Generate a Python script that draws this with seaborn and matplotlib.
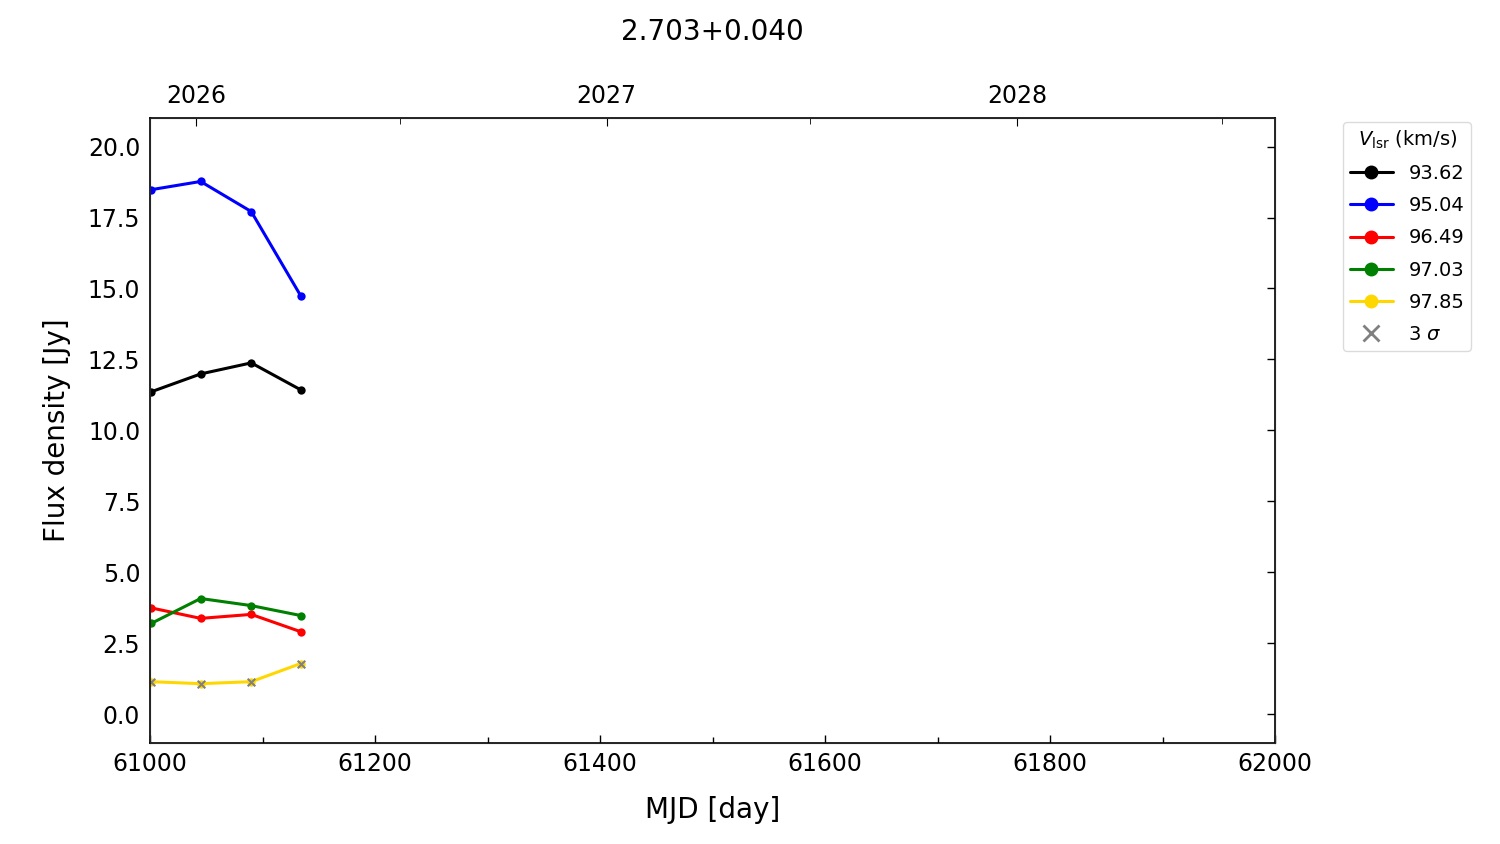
import pandas as pd
import numpy as np
import seaborn as sns
import matplotlib.pyplot as plt
from matplotlib.ticker import MultipleLocator, FixedLocator
from matplotlib.lines import Line2D

mjd = [61001, 61045, 61090, 61134]
vlsr = ["93.62", "95.04", "96.49", "97.03", "97.85"]
flux_9362 = [11.36, 11.99, 12.38, 11.43]
flux_9504 = [18.48, 18.77, 17.71, 14.74]
flux_9649 = [3.75, 3.38, 3.52, 2.91]
flux_9703 = [3.20, 4.08, 3.83, 3.48]
flux_9785 = [1.15, 1.08, 1.15, 1.79]
sigma3 = [1.15, 1.08, 1.15, 1.79]
colors = ["black", "blue", "red", "green", "gold"]

rows = []
for v, f in zip(vlsr, [flux_9362, flux_9504, flux_9649, flux_9703, flux_9785]):
    for m, y in zip(mjd, f):
        rows.append({"MJD": m, "flux": y, "vlsr": v})
df = pd.DataFrame(rows)

sns.set_style("white")
plt.rcParams['font.family'] = ['DejaVu Sans']
plt.rcParams['text.color'] = 'black'
plt.rcParams['axes.labelcolor'] = 'black'
plt.rcParams['xtick.color'] = 'black'
plt.rcParams['ytick.color'] = 'black'
fig, ax = plt.subplots(figsize=(15, 8.44), dpi=100)
fig.subplots_adjust(left=0.1, right=0.85, top=0.86, bottom=0.12)

sns.lineplot(data=df, x="MJD", y="flux", hue="vlsr", palette=colors, marker="o",
             markersize=6, markeredgewidth=0, linewidth=2.2, ax=ax, legend=False)
sns.scatterplot(x=mjd, y=sigma3, marker="x", color="gray", s=30, linewidth=1.5, ax=ax, zorder=5)

ax.set_xlim(61000, 62000)
ax.set_ylim(-1, 21)
ax.xaxis.set_major_locator(MultipleLocator(200))
ax.xaxis.set_minor_locator(MultipleLocator(100))
ax.yaxis.set_major_locator(MultipleLocator(2.5))
ax.tick_params(which="both", direction="in", top=False, right=True, labelsize=17, pad=7)
ax.tick_params(which="major", length=6, width=1)
ax.tick_params(which="minor", length=4, width=1)
for s in ax.spines.values():
    s.set_color("black")
    s.set_linewidth(1.2)
ax.set_xlabel("MJD [day]", fontsize=20, labelpad=14)
ax.set_ylabel("Flux density [Jy]", fontsize=20, labelpad=12)

# top axis with years
yr_mjd = [61041, 61406, 61771]
half_mjd = [61222, 61587, 61953]
ax2 = ax.twiny()
ax2.set_xlim(ax.get_xlim())
ax2.xaxis.set_major_locator(FixedLocator(yr_mjd))
ax2.xaxis.set_minor_locator(FixedLocator(half_mjd))
ax2.set_xticklabels(["2026", "2027", "2028"])
ax2.tick_params(which="both", direction="in", labelsize=17, pad=7)
ax2.tick_params(which="major", length=6)
ax2.tick_params(which="minor", length=4)
ax2.set_title("2.703+0.040", fontsize=20, pad=56)

handles = [Line2D([0], [0], color=c, marker="o", markersize=9, linewidth=2.2) for c in colors]
handles.append(Line2D([0], [0], color="gray", marker="x", markersize=12, markeredgewidth=2, linestyle="none"))
labels = vlsr + [r"3 $\sigma$"]
leg = ax.legend(handles, labels, title=r"$V_{\rm lsr}$ (km/s)", loc="upper left",
                bbox_to_anchor=(1.052, 1.01), fontsize=14, title_fontsize=14,
                frameon=True, handlelength=2.2, borderpad=0.35, labelspacing=0.68)
leg.get_frame().set_edgecolor("lightgray")

fig.savefig("out.png")
